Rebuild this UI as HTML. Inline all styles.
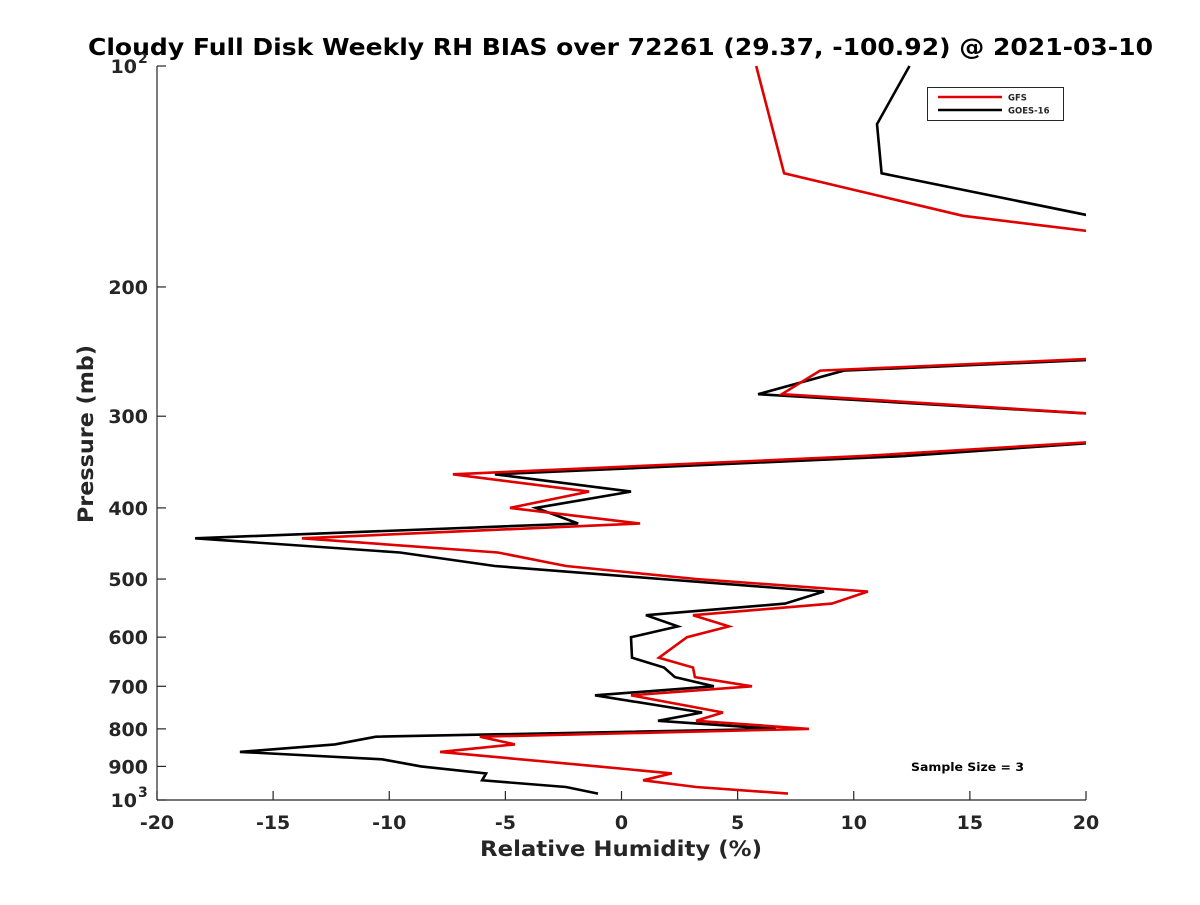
<!DOCTYPE html>
<html><head><meta charset="utf-8"><style>
body{margin:0;background:#fff}
svg text{font-family:"DejaVu Sans","Liberation Sans",sans-serif;font-weight:bold;fill:#262626}
</style></head><body>
<svg id="chart" width="1200" height="900" xmlns="http://www.w3.org/2000/svg">
<rect width="1200" height="900" fill="#fff"/>
<text x="88" y="55" textLength="1065" lengthAdjust="spacingAndGlyphs" font-size="23" style="fill:#000">Cloudy Full Disk Weekly RH BIAS over 72261 (29.37, -100.92) @ 2021-03-10</text>
<defs><clipPath id="plotclip"><rect x="157" y="60" width="929" height="740"/></clipPath></defs>
<g id="axes"></g>
<g id="series" clip-path="url(#plotclip)"></g>
<text x="480" y="856" textLength="282" lengthAdjust="spacingAndGlyphs" font-size="21">Relative Humidity (%)</text>
<text transform="translate(93,523) rotate(-90)" textLength="178" lengthAdjust="spacingAndGlyphs" font-size="21">Pressure (mb)</text>
<g>
<rect x="927.5" y="87.5" width="136" height="33" fill="#fff" stroke="#262626" stroke-width="1"/>
<line x1="938" y1="97" x2="1002" y2="97" stroke="#e00000" stroke-width="2.5"/>
<text x="1008" y="100.5" font-size="8.5">GFS</text>
<line x1="938" y1="110" x2="1002" y2="110" stroke="#000" stroke-width="2.5"/>
<text x="1008" y="113.5" font-size="8.5">GOES-16</text>
</g>
<text x="911" y="771" textLength="113" lengthAdjust="spacingAndGlyphs" font-size="11.5" style="fill:#000">Sample Size = 3</text>
</svg>
<script>
const gfsPressure=[100,140,160,180,250,260,280,300,310,325,340,360,380,400,420,440,460,480,500,520,540,560,580,600,640,660,680,700,720,760,780,800,820,840,860,900,920,940,960,980];
const gfsRH=[5.8,7.0,14.7,28,21,8.55,6.9,22,40,20.5,10.35,-7.26,-1.4,-4.8,0.8,-13.76,-5.32,-2.39,3.21,10.61,9.06,3.08,4.63,2.82,1.61,3.08,3.16,5.62,0.41,4.37,3.21,8.07,-6.1,-4.59,-7.81,-1.01,2.17,0.93,3.21,7.17];
const goesPressure=[100,120,140,160,180,250,260,280,300,310,325,340,360,380,400,420,440,460,480,500,520,540,560,580,600,640,660,680,700,720,760,780,800,820,840,860,880,900,920,940,960,980];
const goesRH=[12.4,11.0,11.2,20.2,40,22,9.58,5.88,22,40,21,12.16,-5.45,0.41,-3.68,-1.87,-18.36,-9.54,-5.45,1.7,8.72,7.04,1.05,2.43,0.41,0.45,1.83,2.3,3.98,-1.14,3.47,1.57,6.65,-10.57,-12.34,-16.43,-10.31,-8.63,-5.83,-6.0,-2.39,-1.01];
const xTicks=[-20,-15,-10,-5,0,5,10,15,20];
const yTicks=[200,300,400,500,600,700,800,900];

const NS="http://www.w3.org/2000/svg";
const X0=157,X1=1086,Y0=66,Y1=800;
function xs(v){return X0+(v+20)/40*(X1-X0);}
function ys(p){return Y0+(Math.log10(p)-2)*(Y1-Y0);}
function mk(tag,attrs,parent){const e=document.createElementNS(NS,tag);for(const k in attrs)e.setAttribute(k,attrs[k]);parent.appendChild(e);return e;}
const axes=document.getElementById('axes');
const yl=mk('line',{x1:X0,y1:Y0,x2:X0,y2:Y1,stroke:'#262626','stroke-width':1.2},axes);


const xl=mk('line',{x1:X0,y1:Y1,x2:X1,y2:Y1,stroke:'#262626','stroke-width':1.2},axes);


xTicks.forEach(v=>{
  const x=xs(v);
  mk('line',{x1:x,y1:Y1,x2:x,y2:Y1-9,stroke:'#262626','stroke-width':1.2},axes);
  const t=mk('text',{x:x,y:829,'text-anchor':'middle','font-size':19},axes);
  t.textContent=v;
  
  
});
yTicks.concat([100,1000]).forEach(p=>{
  const y=ys(p);
  mk('line',{x1:X0,y1:y,x2:X0+9,y2:y,stroke:'#262626','stroke-width':1.2},axes);
  let t;
  if(p===100||p===1000){
    t=mk('text',{x:137,y:y+7,'text-anchor':'end','font-size':19},axes);
    t.textContent='10';
    const s=mk('text',{x:138,y:y-3,'font-size':14},axes);
    s.textContent=p===100?'2':'3';
  }else{
    t=mk('text',{x:148,y:y+7,'text-anchor':'end','font-size':19},axes);
    t.textContent=p;
  }
  
  
});
const ser=document.getElementById('series');
function drawLine(P,V,color,name){
  const pts=P.map((p,i)=>xs(V[i]).toFixed(1)+','+ys(p).toFixed(1)).join(' ');
  const pl=mk('polyline',{points:pts,fill:'none',stroke:color,'stroke-width':2.6,'stroke-linejoin':'miter'},ser);
  
  
}
drawLine(goesPressure,goesRH,'#000','goes16-line');
drawLine(gfsPressure,gfsRH,'#e00000','gfs-line');
</script>
</body></html>
